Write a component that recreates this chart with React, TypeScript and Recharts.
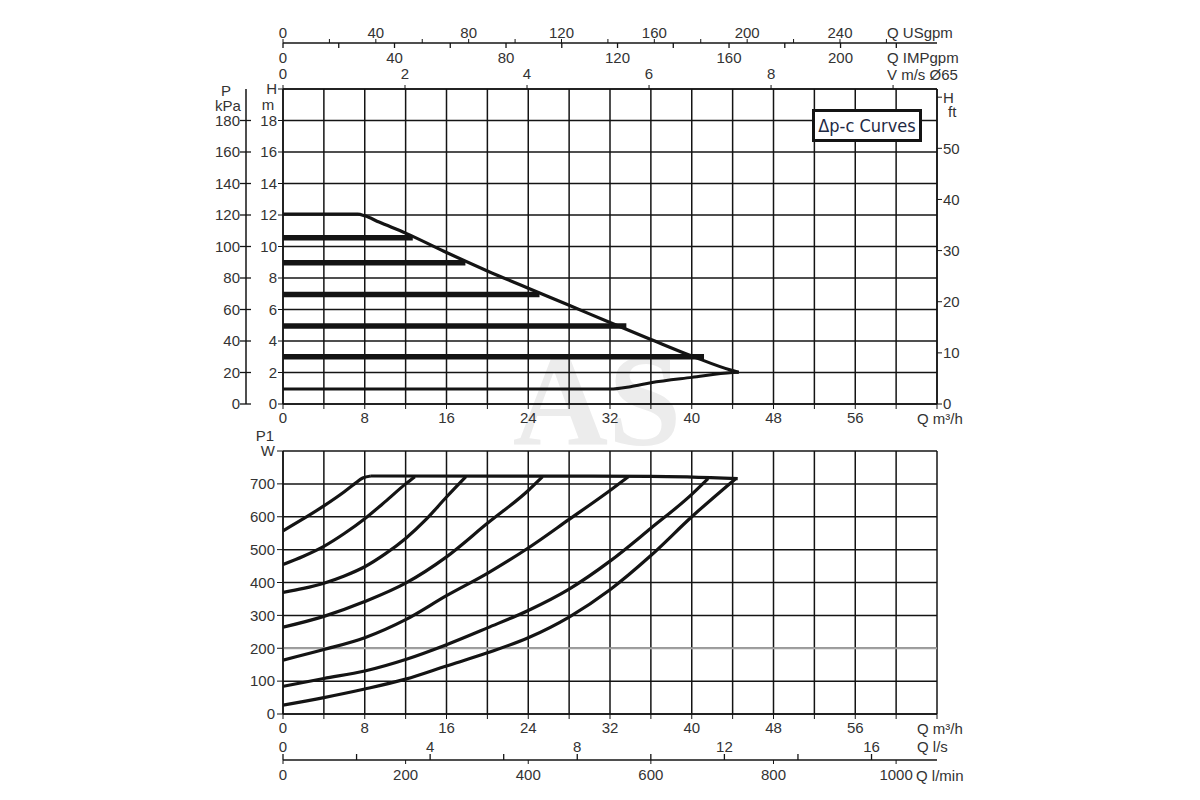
import React from 'react';
import { LineChart, Line, XAxis, YAxis, CartesianGrid, ReferenceLine } from 'recharts';

const FONT = '"Liberation Sans", Arial, Helvetica, sans-serif';
const INK = '#141414';
const LABEL = '#333';

// head curves: Q in m3/h, H in m
const maxCurveQ = [0, 7.3, 8, 9.4, 12, 16, 20, 24, 28, 32, 36, 40, 44, 44.6];
const maxCurveH = [12.05, 12.05, 11.95, 11.55, 10.85, 9.62, 8.45, 7.35, 6.27, 5.17, 4.1, 3.05, 2.12, 2.02];
const minCurveQ = [0, 32, 34, 36, 40, 44, 44.6];
const minCurveH = [0.95, 0.95, 1.1, 1.35, 1.69, 2.0, 2.02];
const dpcHeads = [10.55, 8.97, 6.96, 4.95, 3.0];
const dpcFlowEnds = [12.7, 17.85, 25.1, 33.6, 41.2];

// power input P1 (W) for each setting, highest first
const powerFlows = [
  [0, 2, 4, 6, 7, 7.8, 8.6],
  [0, 2, 4, 6, 8, 10, 12, 12.9],
  [0, 2, 4, 6, 8, 10, 12, 14, 16, 17.9],
  [0, 4, 8, 12, 16, 20, 24, 25.4],
  [0, 4, 8, 12, 16, 20, 24, 28, 32, 33.8],
  [0, 4, 8, 12, 16, 20, 24, 28, 32, 36, 40, 41.6],
  [0, 4, 8, 12, 16, 20, 24, 28, 32, 36, 40, 44.3],
];
const powerWatts = [
  [557, 594, 633, 676, 700, 718, 724],
  [455, 480, 510, 549, 594, 646, 700, 722],
  [370, 382, 398, 420, 448, 487, 534, 592, 660, 722],
  [264, 297, 342, 398, 478, 580, 680, 722],
  [164, 196, 232, 287, 360, 428, 505, 592, 680, 722],
  [84, 108, 131, 166, 211, 262, 315, 380, 465, 565, 668, 716],
  [27, 50, 76, 106, 146, 186, 232, 295, 378, 482, 600, 716],
];
const maxPowerQ = [8.6, 36, 44.5];
const maxPowerW = [724, 723, 716];

// axis ticks
const qTicks = [0, 4, 8, 12, 16, 20, 24, 28, 32, 36, 40, 44, 48, 52, 56, 60, 64];
const headTicks = [0, 2, 4, 6, 8, 10, 12, 14, 16, 18, 20];
const kpaTicks = [0, 20, 40, 60, 80, 100, 120, 140, 160, 180, 200];
const ftTicks = [0, 10, 20, 30, 40, 50, 60];
const usgpmTicks = [0, 20, 40, 60, 80, 100, 120, 140, 160, 180, 200, 220, 240, 260];
const impgpmTicks = [0, 20, 40, 60, 80, 100, 120, 140, 160, 180, 200, 220];
const velocityTicks = [0, 2, 4, 6, 8, 10];
const wattTicks = [0, 100, 200, 300, 400, 500, 600, 700, 800];
const lsTicks = [0, 2, 4, 6, 8, 10, 12, 14, 16];
const lminTicks = [0, 200, 400, 600, 800, 1000];

const Q_MAX = 64;
const H_MAX = 20;
const KPA_MAX = 200;
const FT_MAX = 61.6;
const USGPM_MAX = 281.8;
const IMPGPM_MAX = 234.6;
const V_MAX = 10.72;
const W_MAX = 800;
const LS_MAX = 17.78;
const LMIN_MAX = 1066.7;

const pairs = (xs: number[], ys: number[], key: string) => xs.map((q, i) => ({ q, [key]: ys[i] }));

const maxCurve = pairs(maxCurveQ, maxCurveH, 'h');
const minCurve = pairs(minCurveQ, minCurveH, 'h');
const dpcLines = dpcHeads.map((h, i) => [{ q: 0, h }, { q: dpcFlowEnds[i], h }]);
const powerCurves = powerFlows.map((qs, i) => pairs(qs, powerWatts[i], 'w'));
const maxPower = pairs(maxPowerQ, maxPowerW, 'w');

// ranges of the secondary scales, so that their axes get a domain
const topScaleRange = [
  { us: 0, imp: 0, v: 0 },
  { us: USGPM_MAX, imp: IMPGPM_MAX, v: V_MAX },
];
const bottomScaleRange = [
  { ls: 0, lmin: 0 },
  { ls: LS_MAX, lmin: LMIN_MAX },
];

const tickStyle = { fontSize: 15, fill: LABEL, fontFamily: FONT };
const lineAxis = { stroke: INK, strokeWidth: 1.5 };

const PressureTick = (props: any) => {
  const { x, y, payload } = props;
  const v = payload.value;
  if (v === KPA_MAX) {
    return <text x={x - 20} y={y + 7} textAnchor="middle" {...tickStyle}>P</text>;
  }
  return (
    <g>
      <line x1={x - 6} x2={x + 5} y1={y} y2={y} stroke={INK} strokeWidth={1.3} />
      <text x={x - 6} y={y + 5} textAnchor="end" {...tickStyle}>{v}</text>
    </g>
  );
};

// IMPgpm ticks hang below the USgpm line (axis is 1px high, its top edge on that line)
const ImpTick = (props: any) => {
  const { x, y, payload } = props;
  const v = payload.value;
  return (
    <g>
      <line x1={x} x2={x} y1={y - 1} y2={y + 4} stroke={INK} strokeWidth={1.3} />
      {v % 40 === 0 && v <= 200 && (
        <text x={x} y={y + 19} textAnchor="middle" {...tickStyle}>{v}</text>
      )}
    </g>
  );
};

// l/s ticks stand on the l/min line
const LsTick = (props: any) => {
  const { x, y, payload } = props;
  const v = payload.value;
  return (
    <g>
      <line x1={x} x2={x} y1={y - 5} y2={y + 1} stroke={INK} strokeWidth={1.3} />
      {v % 4 === 0 && (
        <text x={x} y={y - 7} textAnchor="middle" {...tickStyle}>{v}</text>
      )}
    </g>
  );
};

const qFmt = (v: number) => (v % 8 === 0 && v < 64 ? String(v) : '');

const unitText = (text: string, x: number, y: number, anchor = 'start') => (
  <text x={x} y={y + 5} textAnchor={anchor} fontSize={15} fill={LABEL} fontFamily={FONT}>
    {text}
  </text>
);

export default function App() {
  return (
    <div style={{ position: 'absolute', left: 0, top: 0, width: 1200, height: 800, background: '#fff', fontFamily: FONT }}>
      <svg width={1200} height={800} style={{ position: 'absolute', left: 0, top: 0 }}>
        <text x={597} y={445} textAnchor="middle" fontSize={132} fontWeight="bold" fontFamily='"Liberation Serif", serif' fill="#ececec">
          AS
        </text>
      </svg>

      <div style={{ position: 'absolute', left: 0, top: 0 }}>
        <LineChart width={1200} height={440} data={topScaleRange} margin={{ top: 0, right: 223, bottom: 6, left: 186 }}>
          <CartesianGrid xAxisId="b1q" yAxisId="l1h" stroke={INK} strokeWidth={1.5} />
          <XAxis xAxisId="b1q" dataKey="q" type="number" domain={[0, Q_MAX]} allowDataOverflow ticks={qTicks} interval={0}
            height={30} tickSize={5} tickMargin={3} tickFormatter={qFmt} tick={tickStyle} stroke={INK} axisLine={lineAxis} />
          <XAxis xAxisId="t1v" dataKey="v" type="number" orientation="top" domain={[0, V_MAX]} allowDataOverflow ticks={velocityTicks}
            interval={0} height={45} tickSize={4} tickMargin={6} tickFormatter={(v: number) => (v <= 8 ? String(v) : '')}
            tick={tickStyle} stroke={INK} axisLine={lineAxis} />
          <XAxis xAxisId="t2imp" dataKey="imp" type="number" orientation="top" domain={[0, IMPGPM_MAX]} allowDataOverflow
            ticks={impgpmTicks} interval={0} height={1} tickSize={0} tickMargin={0} axisLine={false} tickLine={false}
            tick={(p: any) => <ImpTick {...p} />} />
          <XAxis xAxisId="t3us" dataKey="us" type="number" orientation="top" domain={[0, USGPM_MAX]} allowDataOverflow
            ticks={usgpmTicks} interval={0} height={43} tickSize={4} tickMargin={1}
            tickFormatter={(v: number) => (v % 40 === 0 && v <= 240 ? String(v) : '')}
            tick={tickStyle} stroke={INK} axisLine={lineAxis} />
          <YAxis yAxisId="l1h" type="number" domain={[0, H_MAX]} allowDataOverflow ticks={headTicks} interval={0} width={37}
            tickSize={5} tickMargin={1} tickFormatter={(v: number) => (v === 20 ? 'H' : String(v))} tick={tickStyle}
            stroke={INK} axisLine={lineAxis} />
          <YAxis yAxisId="l2kpa" type="number" domain={[0, KPA_MAX]} allowDataOverflow ticks={kpaTicks} interval={0} width={60}
            tickSize={0} tickMargin={0} tickLine={false} tick={(p: any) => <PressureTick {...p} />} stroke={INK} axisLine={lineAxis} />
          <YAxis yAxisId="r1ft" orientation="right" type="number" domain={[0, FT_MAX]} allowDataOverflow ticks={ftTicks} interval={0}
            width={40} tickSize={5} tickMargin={1} tickFormatter={(v: number) => (v === 60 ? 'H' : String(v))} tick={tickStyle}
            stroke={INK} axisLine={lineAxis} />

          {dpcLines.map((d, i) => (
            <Line key={'dpc' + i} xAxisId="b1q" yAxisId="l1h" data={d} dataKey="h" type="linear" stroke={INK}
              strokeWidth={5.5} dot={false} isAnimationActive={false} />
          ))}
          <Line xAxisId="b1q" yAxisId="l1h" data={maxCurve} dataKey="h" type="monotone" stroke={INK} strokeWidth={3.2}
            dot={false} isAnimationActive={false} />
          <Line xAxisId="b1q" yAxisId="l1h" data={minCurve} dataKey="h" type="monotone" stroke={INK} strokeWidth={3}
            dot={false} isAnimationActive={false} />
        </LineChart>
      </div>

      <div style={{ position: 'absolute', left: 0, top: 440 }}>
        <LineChart width={1200} height={360} data={bottomScaleRange} margin={{ top: 11, right: 263, bottom: 0, left: 223 }}>
          <CartesianGrid xAxisId="b1q" yAxisId="l1w" stroke={INK} strokeWidth={1.5} />
          <ReferenceLine xAxisId="b1q" yAxisId="l1w" y={200} stroke="#a0a0a0" strokeWidth={2} />
          <XAxis xAxisId="b1q" dataKey="q" type="number" domain={[0, Q_MAX]} allowDataOverflow ticks={qTicks} interval={0}
            height={45} tickSize={5} tickMargin={3} tickFormatter={qFmt} tick={tickStyle} stroke={INK} axisLine={lineAxis} />
          <XAxis xAxisId="b2ls" dataKey="ls" type="number" domain={[0, LS_MAX]} allowDataOverflow ticks={lsTicks} interval={0}
            height={1} tickSize={0} tickMargin={0} axisLine={false} tickLine={false} tick={(p: any) => <LsTick {...p} />} />
          <XAxis xAxisId="b3lmin" dataKey="lmin" type="number" domain={[0, LMIN_MAX]} allowDataOverflow ticks={lminTicks}
            interval={0} height={40} tickSize={4} tickMargin={5} tick={tickStyle} stroke={INK} axisLine={lineAxis} />
          <YAxis yAxisId="l1w" type="number" domain={[0, W_MAX]} allowDataOverflow ticks={wattTicks} interval={0} width={60}
            tickSize={6} tickMargin={2} tickFormatter={(v: number) => (v === 800 ? 'W' : String(v))} tick={tickStyle}
            stroke={INK} axisLine={lineAxis} />

          <Line xAxisId="b1q" yAxisId="l1w" data={maxPower} dataKey="w" type="monotone" stroke={INK} strokeWidth={3.2}
            dot={false} isAnimationActive={false} />
          {powerCurves.map((d, i) => (
            <Line key={'p' + i} xAxisId="b1q" yAxisId="l1w" data={d} dataKey="w" type="monotone" stroke={INK}
              strokeWidth={3.2} dot={false} isAnimationActive={false} />
          ))}
        </LineChart>
      </div>

      <svg width={1200} height={800} style={{ position: 'absolute', left: 0, top: 0, pointerEvents: 'none' }}>
        {unitText('Q USgpm', 887, 33)}
        {unitText('Q IMPgpm', 887, 58)}
        {unitText('V m/s Ø65', 887, 75)}
        {unitText('kPa', 228, 106, 'middle')}
        {unitText('m', 268, 105, 'middle')}
        {unitText('ft', 948, 112)}
        {unitText('Q m³/h', 917, 419)}
        {unitText('P1', 265, 436, 'middle')}
        {unitText('Q m³/h', 917, 729)}
        {unitText('Q l/s', 917, 747)}
        {unitText('Q l/min', 916, 776)}
      </svg>

      <div
        style={{
          position: 'absolute', left: 812, top: 109, width: 110, height: 33, boxSizing: 'border-box',
          border: `3px solid ${INK}`, background: '#fff', display: 'flex', alignItems: 'center', justifyContent: 'center',
          fontFamily: '"Liberation Sans Narrow", "DejaVu Sans Condensed", Arial, sans-serif', fontSize: 18, color: '#1f2a44',
        }}
      >
        Δp-c Curves
      </div>
    </div>
  );
}
